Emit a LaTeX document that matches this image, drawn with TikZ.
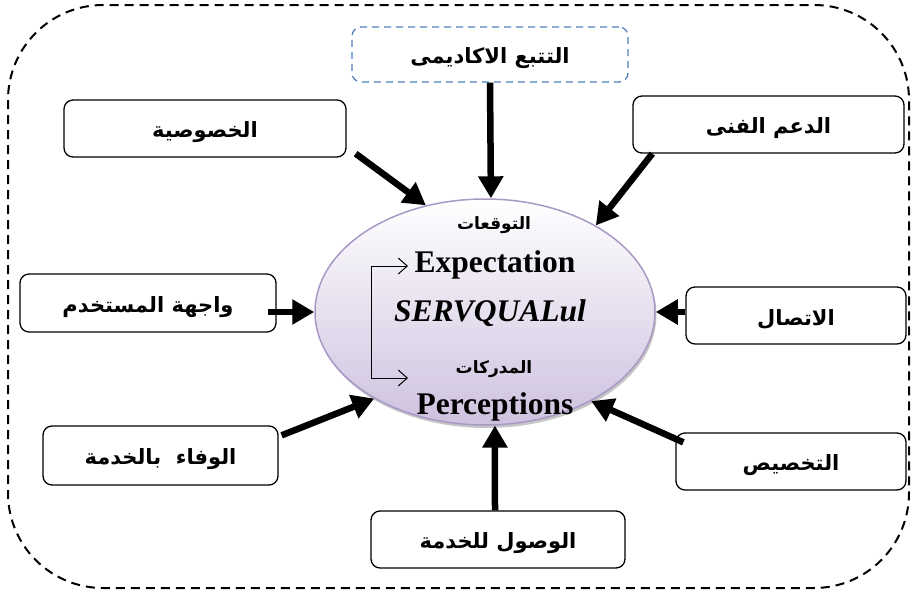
\documentclass[tikz,border=0pt]{standalone}
\usepackage{fontspec}
\setmainfont{Liberation Serif}
\newfontfamily\arabicfont[Script=Arabic]{DejaVu Sans}
\TeXXeTstate=1
\usetikzlibrary{arrows.meta,shapes.geometric,shadows,calc}
\definecolor{dashblue}{RGB}{79,129,189}
\definecolor{ellborder}{RGB}{168,152,198}
\definecolor{lav}{RGB}{206,193,223}
\newcommand{\artxt}[1]{{\arabicfont\bfseries\beginR #1\endR}}
\newcommand{\boxtxt}[1]{\raisebox{-4pt}[\height][\depth]{\artxt{#1}}}
\begin{document}
\begin{tikzpicture}[x=1pt,y=-1pt,
  box/.style={draw, line width=1.3pt, rounded corners=9pt, inner sep=0pt,
     minimum height=57pt, font=\fontsize{21}{23}\selectfont},
  bigarr/.style={line width=6.5pt, -{Triangle[length=22pt,width=24pt]}},
  thinarr/.style={line width=1pt, -{Straight Barb[length=9pt,width=16pt]}},
  arlbl/.style={font=\fontsize{17}{19}\selectfont, inner sep=0pt},
  bigtxt/.style={font=\fontsize{31.5}{32}\selectfont\bfseries, inner sep=0pt}]
\useasboundingbox (0,0) rectangle (911,592);
\draw[line width=2pt, dash pattern=on 9pt off 6pt, rounded corners=95pt] (8,5) rectangle (909,588);

% centre ellipse
\node[ellipse, draw=ellborder, line width=1.5pt, top color=white, bottom color=lav,
  minimum width=340pt, minimum height=226pt,
  drop shadow={shadow xshift=1.5pt, shadow yshift=-3pt, opacity=0.45, fill=gray}] (ell) at (485,312) {};

% boxes
\node[box, draw=dashblue, dashed, dash pattern=on 7pt off 5pt, minimum width=276pt, minimum height=55pt] (top) at (490,54.5) {\boxtxt{التتبع الاكاديمى}};
\node[box, minimum width=282pt] (khus) at (205,128.5) {\boxtxt{الخصوصية}};
\node[box, minimum width=271pt] (daam) at (768.5,124.5) {\boxtxt{الدعم الفنى}};
\node[box, minimum width=256pt, minimum height=58pt] (wajiha) at (148,303) {\boxtxt{واجهة المستخدم}};
\node[box, minimum width=220pt] (ittisal) at (796,315.5) {\boxtxt{الاتصال}};
\node[box, minimum width=235pt, minimum height=59pt] (wafa) at (160.5,455.5) {\boxtxt{الوفاء\ \ بالخدمة}};
\node[box, minimum width=230pt] (takhsis) at (791,461.5) {\boxtxt{التخصيص}};
\node[box, minimum width=254pt] (wusul) at (498,539.5) {\boxtxt{الوصول للخدمة}};

% texts inside ellipse
\node[arlbl] (tawq) at (494,225) {\artxt{التوقعات}};
\node[bigtxt] (exp) at (495,265) {Expectation};
\node[bigtxt, font=\fontsize{31.5}{32}\selectfont\bfseries\itshape] (srv) at (490,313) {SERVQUALul};
\node[arlbl] (mudr) at (494,369) {\artxt{المدركات}};
\node[bigtxt] (per) at (495,407) {Perceptions};

% bracket arrows
\coordinate (bt) at (371,266);
\coordinate (ta) at (408,266);
\coordinate (ba) at (408,378);
\draw[thinarr] (bt) -- (ta);
\draw[thinarr] (bt) |- (ba);

% thick arrows
\draw[bigarr] (top.south) -- (ell.87);
\draw[bigarr] ($(khus.south east)+(9,-4)$) -- (ell.119);
\draw[bigarr] ($(daam.south west)+(20,0)$) -- (ell.38);
\draw[bigarr] ($(wajiha.east)+(-9,9)$) -- (ell.180);
\draw[bigarr] ($(ittisal.west)+(0,-3.5)$) -- (ell.0);
\draw[bigarr] ($(wafa.north east)+(3,10)$) -- (ell.218);
\draw[bigarr] ($(takhsis.north west)+(8,10)$) -- (ell.320);
\draw[bigarr] ($(wusul.north)+(-3,0)$) -- (ell.275);
\end{tikzpicture}
\end{document}
